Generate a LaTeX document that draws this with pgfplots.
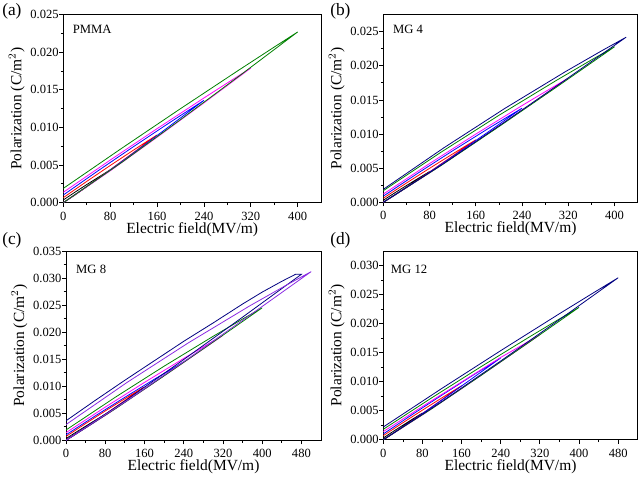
\documentclass[border=0pt]{standalone}
\usepackage{fontspec}
\setmainfont{Liberation Serif}
\usepackage{pgfplots}
\pgfplotsset{compat=1.18}
\definecolor{cgreen}{RGB}{0,128,0}
\definecolor{cnavy}{RGB}{0,0,128}
\definecolor{cmag}{RGB}{255,0,255}
\definecolor{cblue}{RGB}{0,0,255}
\definecolor{cred}{RGB}{255,0,0}
\definecolor{cviolet}{RGB}{138,43,226}
\pgfplotsset{
 pe/.style={
  scale only axis,
  anchor=south west,
  xmin=0, ymin=0,
  axis line style={line width=0.7pt},
  tick align=outside,
  xtick pos=bottom, ytick pos=left,
  major tick length=3pt, minor tick length=1.8pt,
  minor x tick num=1, minor y tick num=1,
  every tick/.style={black, line width=0.6pt},
  scaled y ticks=false,
  yticklabel style={/pgf/number format/.cd, fixed, fixed zerofill, precision=3, /tikz/.cd, anchor=east, inner sep=0pt, xshift=-0.3pt},
  xticklabel style={anchor=north, inner sep=0pt, yshift=-3.6pt},
  /pgf/number format/assume math mode=true,
  tick label style={font=\fontsize{9.4}{10}\selectfont},
  xlabel={Electric field(MV/m)},
  ylabel={Polarization (C/m$^2$)},
  every axis x label/.style={at={([yshift=-14.6pt]axis description cs:0.5,0)}, anchor=north, inner sep=0pt, font=\fontsize{11.6}{13}\selectfont},
  every axis y label/.style={at={([xshift=-28.8pt]axis description cs:0,0.5)}, rotate=90, anchor=south, inner sep=0pt, font=\fontsize{11.6}{13}\selectfont},
  every axis plot/.append style={line width=0.6pt, mark=none},
 }
}
\begin{document}
\begin{tikzpicture}
\useasboundingbox (0,0) rectangle (480pt,361.5pt);
% (a) PMMA
\begin{axis}[pe, at={(47.5pt,209.5pt)}, width=193.3pt, height=141pt,
  xmax=440, ymax=0.025, xtick={0,80,160,240,320,400},
  ytick={0,0.005,0.010,0.015,0.020,0.025}]
\addplot[black] coordinates {(0,0) (20,0.00103) (40,0.00212) (60,0.00323) (80,0.00435) (72,0.00397) (60,0.00339) (40,0.00241) (20,0.0014) (0,0.00036)};
\addplot[cred] coordinates {(0,0) (40,0.00213) (80,0.00438) (120,0.00667) (160,0.0090) (144,0.00821) (120,0.00700) (80,0.00494) (40,0.00283) (0,0.00067)};
\addplot[cblue] coordinates {(0,0) (60,0.00322) (120,0.00661) (180,0.01009) (240,0.0136) (216,0.01239) (180,0.01057) (120,0.00746) (60,0.00428) (0,0.00102)};
\addplot[cmag] coordinates {(0,0) (80,0.00423) (160,0.00870) (240,0.01327) (320,0.0179) (288,0.01632) (240,0.01392) (160,0.00984) (80,0.00566) (0,0.00138)};
\addplot[cgreen] coordinates {(0,0) (100,0.00537) (200,0.01104) (300,0.01683) (400,0.0227) (360,0.02069) (300,0.01765) (200,0.0125) (100,0.00725) (0,0.0019)};
\node[anchor=north west, inner sep=0pt, font=\fontsize{9.5}{11}\selectfont] at (rel axis cs:0.036,0.945) {PMMA};
\end{axis}
% (b) MG 4
\begin{axis}[pe, at={(287.5pt,209.8pt)}, width=190.8pt, height=140.7pt,
  xmax=440, ymax=0.0275, xtick={0,80,160,240,320,400},
  ytick={0,0.005,0.010,0.015,0.020,0.025}]
\addplot[black] coordinates {(0,0) (20,0.00106) (40,0.00219) (60,0.00334) (80,0.0045) (72,0.0041) (60,0.00349) (40,0.00245) (20,0.00139) (0,0.0003)};
\addplot[cred] coordinates {(0,0) (40,0.00216) (80,0.00445) (120,0.00679) (160,0.00915) (144,0.00834) (120,0.00709) (80,0.00498) (40,0.00282) (0,0.0006)};
\addplot[cblue] coordinates {(0,0) (60,0.00326) (120,0.00671) (180,0.01023) (240,0.0138) (216,0.01258) (180,0.01073) (120,0.00755) (60,0.00428) (0,0.0009)};
\addplot[cmag] coordinates {(0,0) (80,0.0043) (160,0.00885) (240,0.0135) (320,0.0182) (288,0.01661) (240,0.01418) (160,0.0100) (80,0.00568) (0,0.0012)};
\addplot[cgreen] coordinates {(0,0) (100,0.00539) (200,0.01109) (300,0.01691) (400,0.0228) (360,0.02087) (300,0.0179) (200,0.01275) (100,0.00735) (0,0.0017)};
\addplot[cnavy] coordinates {(0,0) (105,0.00572) (210,0.01177) (315,0.01795) (420,0.0242) (378,0.02222) (315,0.01915) (210,0.01375) (105,0.0080) (0,0.0019)};
\node[anchor=north west, inner sep=0pt, font=\fontsize{9.5}{11}\selectfont] at (rel axis cs:0.037,0.945) {MG 4};
\end{axis}
% (c) MG 8
\begin{axis}[pe, at={(49.5pt,31.3pt)}, width=191.25pt, height=141.9pt,
  xmax=520, ymax=0.035, xtick={0,80,160,240,320,400,480},
  ytick={0,0.005,0.010,0.015,0.020,0.025,0.030,0.035}]
\addplot[black] coordinates {(0,0) (20,0.00114) (40,0.00233) (60,0.00356) (80,0.0048) (72,0.00437) (60,0.00372) (40,0.0026) (20,0.00147) (0,0.0003)};
\addplot[cred] coordinates {(0,0) (40,0.00234) (80,0.00481) (120,0.00734) (160,0.0099) (144,0.00902) (120,0.00769) (80,0.00542) (40,0.00309) (0,0.0007)};
\addplot[cblue] coordinates {(0,0) (60,0.00343) (120,0.00705) (180,0.01075) (240,0.0145) (216,0.01322) (180,0.01128) (120,0.00795) (60,0.00453) (0,0.001)};
\addplot[cmag] coordinates {(0,0) (80,0.00459) (160,0.00943) (240,0.01439) (320,0.0194) (288,0.01771) (240,0.01513) (160,0.0107) (80,0.00613) (0,0.0014)};
\addplot[cgreen] coordinates {(0,0) (100,0.00579) (200,0.01191) (300,0.01817) (400,0.0245) (360,0.02242) (300,0.01923) (200,0.0137) (100,0.00793) (0,0.0019)};
\addplot[cnavy] coordinates {(0,0) (120,0.00726) (240,0.01493) (360,0.02277) (480,0.0307) (468,0.0307) (440,0.0294) (400,0.0274) (360,0.0252) (300,0.0217) (240,0.0183) (180,0.0147) (120,0.0111) (60,0.0074) (0,0.0036)};
\addplot[cviolet] coordinates {(0,0) (125,0.00738) (250,0.01517) (375,0.02314) (500,0.0312) (450,0.02873) (375,0.02488) (250,0.01805) (125,0.01073) (0,0.0029)};
\node[anchor=north west, inner sep=0pt, font=\fontsize{9.5}{11}\selectfont] at (rel axis cs:0.039,0.93) {MG 8};
\end{axis}
% (d) MG 12
\begin{axis}[pe, at={(287.5pt,31.7pt)}, width=190.8pt, height=141.5pt,
  xmax=520, ymax=0.0325, xtick={0,80,160,240,320,400,480},
  ytick={0,0.005,0.010,0.015,0.020,0.025,0.030}]
\addplot[black] coordinates {(0,0) (20,0.00109) (40,0.00224) (60,0.00341) (80,0.0046) (72,0.00419) (60,0.00357) (40,0.0025) (20,0.00142) (0,0.0003)};
\addplot[cred] coordinates {(0,0) (40,0.0022) (80,0.00452) (120,0.0069) (160,0.0093) (144,0.00848) (120,0.00723) (80,0.0051) (40,0.00293) (0,0.0007)};
\addplot[cblue] coordinates {(0,0) (60,0.00333) (120,0.00686) (180,0.01046) (240,0.0141) (216,0.01284) (180,0.01094) (120,0.0077) (60,0.00439) (0,0.001)};
\addplot[cmag] coordinates {(0,0) (80,0.00428) (160,0.0088) (240,0.01342) (320,0.0181) (288,0.0165) (240,0.01418) (160,0.00995) (80,0.00573) (0,0.0014)};
\addplot[cgreen] coordinates {(0,0) (100,0.00539) (200,0.01109) (300,0.01691) (400,0.0228) (360,0.02081) (300,0.01778) (200,0.0126) (100,0.00728) (0,0.0018)};
\addplot[cnavy] coordinates {(0,0) (120,0.0066) (240,0.01357) (360,0.02069) (480,0.0279) (432,0.02544) (360,0.02171) (240,0.01535) (120,0.00886) (0,0.0022)};
\node[anchor=north west, inner sep=0pt, font=\fontsize{9.5}{11}\selectfont] at (rel axis cs:0.029,0.926) {MG 12};
\end{axis}
\node[anchor=north west, inner sep=0pt, font=\fontsize{13}{15}\selectfont] at (1.5pt,359pt) {(a)};
\node[anchor=north west, inner sep=0pt, font=\fontsize{13}{15}\selectfont] at (247.5pt,359pt) {(b)};
\node[anchor=north west, inner sep=0pt, font=\fontsize{13}{15}\selectfont] at (1.5pt,187.5pt) {(c)};
\node[anchor=north west, inner sep=0pt, font=\fontsize{13}{15}\selectfont] at (247.5pt,187.5pt) {(d)};
\end{tikzpicture}
\end{document}
